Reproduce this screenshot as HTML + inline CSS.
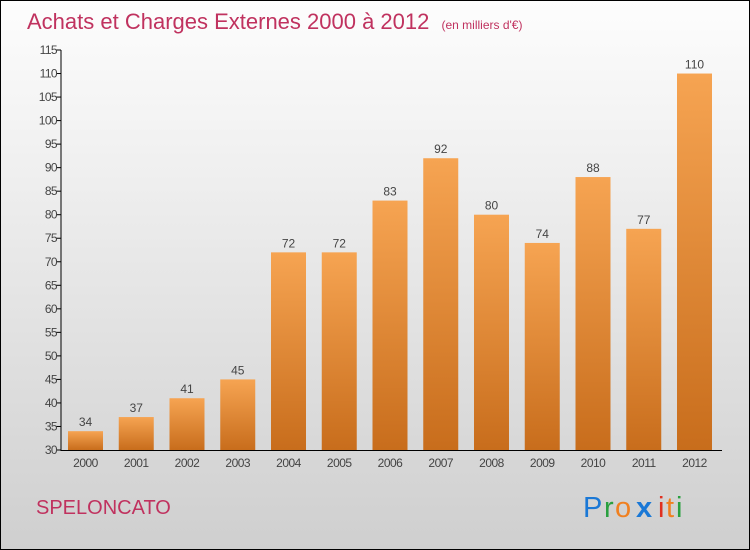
<!DOCTYPE html>
<html><head><meta charset="utf-8"><style>
body{margin:0;}
#c{position:relative;width:748px;height:548px;border:1px solid #000;background:linear-gradient(#fdfdfd,#f2f2f2 25%,#cfcfcf);overflow:hidden;font-family:"Liberation Sans",sans-serif;}
</style></head><body>
<div id="c">
<svg width="748" height="548" id="svg">
<defs><linearGradient id="bg" x1="0" y1="0" x2="0" y2="1"><stop offset="0" stop-color="#f6a452"/><stop offset="1" stop-color="#c86d1c"/></linearGradient></defs>
<text x="26" y="28" font-size="22" fill="#c0325f">Achats et Charges Externes 2000 à 2012 <tspan font-size="12" dx="6">(en milliers d'€)</tspan></text>
<text x="35" y="513" font-size="20" fill="#c0325f">SPELONCATO</text>
<g font-size="29">
<text x="582" y="516" fill="#1a78d6">P</text><text x="603" y="516" fill="#2aa040">r</text><text x="614" y="516" fill="#f08020">o</text><text x="635" y="516" fill="#1a78d6" font-weight="bold">x</text><text x="657" y="516" fill="#e03020">i</text><text x="665" y="516" fill="#f08020">t</text><text x="675" y="516" fill="#2aa040">i</text></g>
<g id="plot"></g>
</svg></div>
<script>
const years=["2000","2001","2002","2003","2004","2005","2006","2007","2008","2009","2010","2011","2012"];
const values=[34,37,41,45,72,72,83,92,80,74,88,77,110];
const ticks=[30,35,40,45,50,55,60,65,70,75,80,85,90,95,100,105,110,115];
const ns="http://www.w3.org/2000/svg";
const g=document.getElementById('plot');
const y=v=>449-(v-30)*400/85;
const x=i=>67+i*50.75;
function mk(t,a,p){const e=document.createElementNS(ns,t);for(const k in a)e.setAttribute(k,a[k]);(p||g).appendChild(e);return e;}
ticks.forEach(t=>{
 const l=mk('line',{x1:55,x2:60,y1:y(t),y2:y(t),stroke:'#000'});
 
 
 const tx=mk('text',{x:56,y:y(t)+4,'font-size':12,'text-anchor':'end',fill:'#444','letter-spacing':'-0.6'});tx.textContent=t;
 
 
});
values.forEach((v,i)=>{
 const r=mk('rect',{x:x(i),y:y(v),width:35,height:449-y(v),fill:'url(#bg)'});
 
 
 const t=mk('text',{x:x(i)+17.5,y:y(v)-5,'font-size':12,'text-anchor':'middle',fill:'#444'});t.textContent=v;
 
 
 const xl=mk('text',{x:x(i)+17.5,y:466,'font-size':12,'text-anchor':'middle',fill:'#444','letter-spacing':'-0.5'});xl.textContent=years[i];
 
 
});
const ya=mk('line',{x1:60,x2:60,y1:y(115),y2:450,stroke:'#000'});


const xa=mk('line',{x1:60,x2:721,y1:449.5,y2:449.5,stroke:'#000'});


</script>
</body></html>
